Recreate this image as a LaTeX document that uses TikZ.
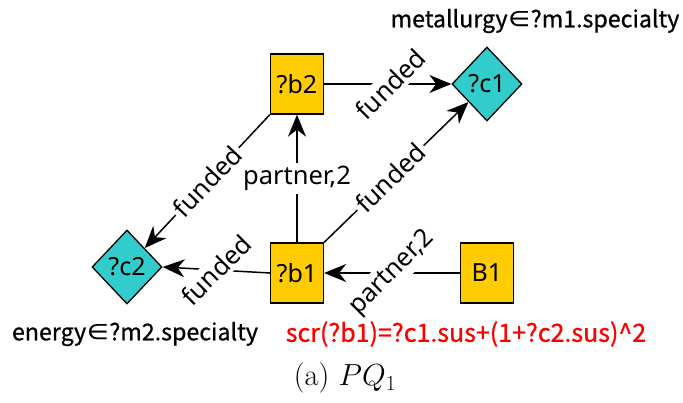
\RequirePackage{fix-cm}
\documentclass[tikz,border=0pt]{standalone}
\usepackage{fontspec}
\newfontfamily\lblfont{Noto Sans}
\newfontfamily\annfont[FakeBold=0.8]{Noto Sans CJK KR}
\usetikzlibrary{arrows.meta,shapes.geometric}
\definecolor{boxyellow}{RGB}{255,204,0}
\definecolor{diamcyan}{RGB}{51,204,204}
\definecolor{annred}{RGB}{255,0,0}
\begin{document}
\begin{tikzpicture}[x=1pt,y=-1pt,
  every node/.style={font=\lblfont\fontsize{25}{29}\selectfont},
  sq/.style={draw=black, line width=1.3pt, fill=boxyellow, minimum width=53pt, minimum height=60pt, inner sep=0pt},
  dia/.style={diamond, draw=black, line width=1.3pt, fill=diamcyan, minimum width=70pt, minimum height=74pt, inner sep=0pt, aspect=0.946},
  edge/.style={line width=1.5pt, -{Stealth[length=22pt,width=18pt,inset=7pt]}},
  elab/.style={fill=white, inner sep=3pt, font=\lblfont\fontsize{25.5}{29}\selectfont},
  ann/.style={font=\annfont\fontsize{23.2}{27}\selectfont}]
\useasboundingbox (0,0) rectangle (683,402);
% nodes
\node[sq] (b2) at (297,84) {?b2};
\node[sq] (b1) at (297,273) {?b1};
\node[sq] (B1) at (487,273) {B1};
\node[dia] (c1) at (487,84) {\makebox[0pt]{?c1}};
\node[dia] (c2) at (127,267) {\makebox[0pt]{?c2}};
% edges
\draw[edge] (b2.east) -- node[elab, rotate=45, pos=0.52] {funded} (c1.west);
\draw[edge] (b1.north) -- node[elab] {partner,2} (b2.south);
\draw[edge] (b1.north east) -- node[elab, sloped, pos=0.46] {funded} (c1);
\draw[edge] (b2.south west) -- node[elab, sloped] {funded} (c2);
\draw[edge] (b1.west) -- node[elab, rotate=45] {funded} (c2.east);
\draw[edge] (B1.west) -- node[elab, rotate=45] {partner,2} (b1.east);
% annotations
\node[ann] (m1) at (535,21) {metallurgy∈?m1.specialty};
\node[ann] (m2) at (135,334) {energy∈?m2.specialty};
\node[ann, text=annred, font=\annfont\fontsize{25}{29}\selectfont] (scr) at (466,334) {scr(?b1)=?c1.sus+(1+?c2.sus)\textasciicircum 2};
\node[font=\normalfont\fontsize{30.5}{35}\selectfont] (cap) at (345,378) {(a) $PQ_1$};
\end{tikzpicture}
\end{document}
